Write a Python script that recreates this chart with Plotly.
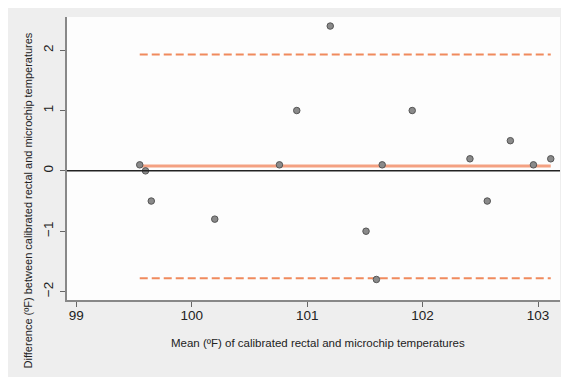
import plotly.graph_objects as go

# Data
mean_temp = [99.55, 99.60, 99.65, 100.20, 100.76, 100.91, 101.20, 101.51,
             101.60, 101.65, 101.91, 102.41, 102.56, 102.76, 102.96, 103.11]
diff_temp = [0.1, 0.0, -0.5, -0.8, 0.1, 1.0, 2.4, -1.0,
             -1.8, 0.1, 1.0, 0.2, -0.5, 0.5, 0.1, 0.2]
mean_diff = 0.08
upper_loa = 1.93
lower_loa = -1.78
x_ticks = [99, 100, 101, 102, 103]
y_ticks = [-2, -1, 0, 1, 2]

x_lo, x_hi = min(mean_temp), max(mean_temp)

fig = go.Figure()
fig.add_trace(go.Scatter(x=[x_lo, x_hi], y=[upper_loa, upper_loa], mode="lines",
                         line=dict(color="#f08a5d", width=2, dash="8px,4px"), hoverinfo="skip"))
fig.add_trace(go.Scatter(x=[x_lo, x_hi], y=[lower_loa, lower_loa], mode="lines",
                         line=dict(color="#f08a5d", width=2, dash="8px,4px"), hoverinfo="skip"))
fig.add_trace(go.Scatter(x=[x_lo, x_hi], y=[mean_diff, mean_diff], mode="lines",
                         line=dict(color="#f4a182", width=3), hoverinfo="skip"))
fig.add_trace(go.Scatter(x=mean_temp, y=diff_temp, mode="markers",
                         marker=dict(size=6.5, color="#8a8a8a",
                                     line=dict(color="#555555", width=1))))

fig.add_hline(y=0, line=dict(color="#222222", width=1.5))

fig.add_annotation(text="Difference (ºF) between calibrated rectal and microchip temperatures",
                   xref="paper", yref="paper", x=-0.079, y=0.352, textangle=-90,
                   xanchor="center", yanchor="middle",
                   showarrow=False, font=dict(size=11, color="#222222"))
fig.add_annotation(text="Mean (ºF) of calibrated rectal and microchip temperatures",
                   xref="paper", yref="paper", x=0.51, y=-0.152,
                   xanchor="center", yanchor="middle",
                   showarrow=False, font=dict(size=11.5, color="#222222"))

fig.update_layout(
    width=561, height=369,
    margin=dict(l=59, r=9, t=9, b=77),
    paper_bgcolor="#eeeeee", plot_bgcolor="#fdfdfd",
    showlegend=False,
    font=dict(family="Liberation Sans, Arial, sans-serif", color="#222222"),
)
fig.update_xaxes(range=[98.92, 103.19], tickvals=x_ticks, ticks="outside", ticklen=5,
                 tickcolor="#666666", showgrid=False, zeroline=False,
                 showline=True, linecolor="#888888", linewidth=2,
                 tickfont=dict(size=13.5), ticklabelstandoff=-3, automargin=False)
fig.update_yaxes(range=[-2.14, 2.55], tickvals=y_ticks, ticks="outside", ticklen=5,
                 tickcolor="#666666", showgrid=False, zeroline=False,
                 showline=True, linecolor="#888888", linewidth=2,
                 tickangle=-90, tickfont=dict(size=13.5), ticklabelstandoff=2,
                 automargin=False)

fig.write_html("out.html")
